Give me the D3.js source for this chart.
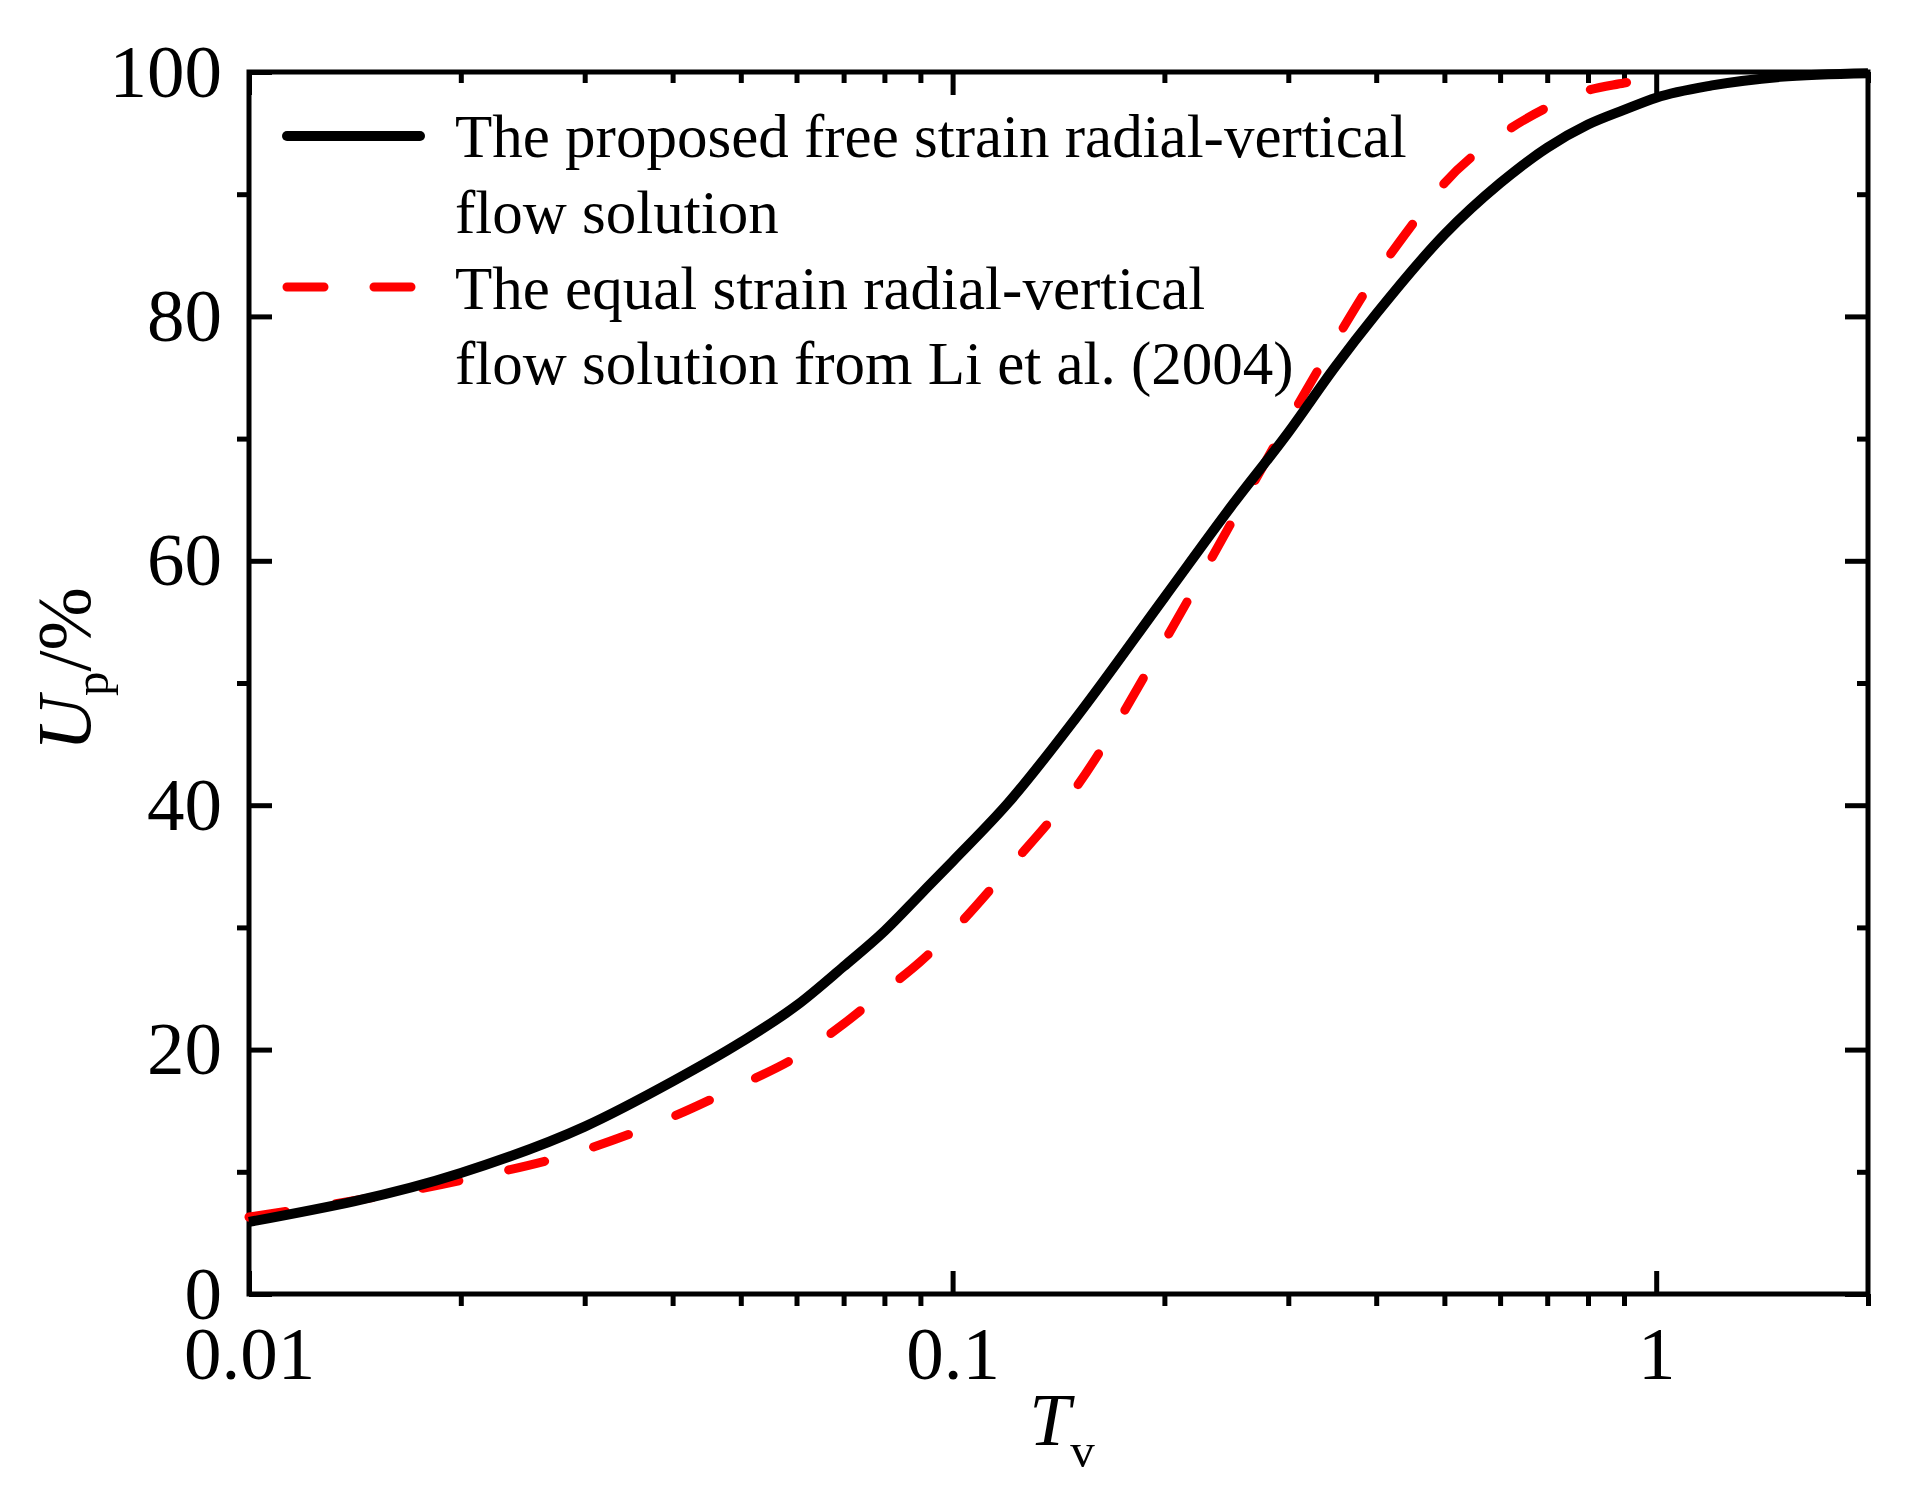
<!DOCTYPE html>
<html>
<head>
<meta charset="utf-8">
<script src="https://cdn.jsdelivr.net/npm/d3@7"></script>
<style>
  body { margin: 0; background: #fff; }
  svg { display: block; }
  text { font-family: "Liberation Serif", "Times New Roman", serif; fill: #000; }
</style>
</head>
<body>
<svg class="svg_parent" width="1906" height="1494"></svg>
<script>
// free strain solution (black)
const tvFree = [0.01, 0.02, 0.03, 0.04, 0.05, 0.06, 0.07, 0.08, 0.09, 0.1,
  0.12, 0.15, 0.2, 0.25, 0.3, 0.35, 0.4, 0.5, 0.6, 0.7, 0.8, 0.9, 1, 1.2, 1.5, 2];
const upFree = [5.9, 9.9, 13.7, 17.4, 20.6, 23.6, 26.8, 29.7, 32.7, 35.4,
  40.2, 47.2, 57.0, 64.6, 70.5, 75.9, 80.2, 86.7, 90.9, 93.8, 95.7, 96.9, 97.9, 98.9, 99.6, 99.9];

// equal strain solution, Li et al. (2004) (red dashed)
const tvEqual = [0.01, 0.02, 0.03, 0.04, 0.05, 0.06, 0.07, 0.08, 0.09, 0.1,
  0.12, 0.15, 0.2, 0.25, 0.3, 0.35, 0.4, 0.45, 0.5, 0.6, 0.7, 0.8, 0.9, 1];
const upEqual = [6.3, 9.3, 11.8, 14.5, 17.1, 19.4, 22.1, 24.8, 27.2, 29.7,
  34.8, 41.5, 53.4, 63.3, 71.4, 78.0, 83.4, 87.5, 90.9, 94.8, 97.1, 98.5, 99.1, 99.6];

// ticks
const xMajor = [0.01, 0.1, 1];
const xMajorLabels = ["0.01", "0.1", "1"];
const xMinor = [0.02, 0.03, 0.04, 0.05, 0.06, 0.07, 0.08, 0.09,
  0.2, 0.3, 0.4, 0.5, 0.6, 0.7, 0.8, 0.9, 2];
const yMajor = [0, 20, 40, 60, 80, 100];
const yMinor = [10, 30, 50, 70, 90];

const legendNames = [
  ["The proposed free strain radial-vertical", "flow solution"],
  ["The equal strain radial-vertical", "flow solution from Li et al. (2004)"]
];

const svg = d3.select(".svg_parent");
svg.selectAll("*").remove();

const margin = { left: 249, right: 1868, top: 72, bottom: 1294 };

const x = d3.scaleLog().domain([0.01, 2]).range([margin.left, margin.right]);
const y = d3.scaleLinear().domain([0, 100]).range([margin.bottom, margin.top]);

const tickW = 5;
const fontTick = 75;

function styleAxis(g) {
  g.attr("font-family", null).attr("font-size", null);
  g.select(".domain").remove();
  g.selectAll(".tick line").attr("stroke", "#000").attr("stroke-width", tickW);
  g.selectAll(".tick text").attr("font-size", fontTick).attr("fill", "#000");
}

// bottom axis: major inward with labels, minor outward
svg.append("g")
  .attr("transform", `translate(0,${margin.bottom})`)
  .call(d3.axisBottom(x).tickValues(xMajor)
    .tickSize(-23).tickPadding(32)
    .tickFormat((d, i) => xMajorLabels[i]))
  .call(styleAxis);
svg.append("g")
  .attr("transform", `translate(0,${margin.bottom})`)
  .call(d3.axisBottom(x).tickValues(xMinor).tickSize(12).tickFormat(() => ""))
  .call(styleAxis);

// top axis: all inward
svg.append("g")
  .attr("transform", `translate(0,${margin.top})`)
  .call(d3.axisTop(x).tickValues(xMajor).tickSize(-23).tickFormat(() => ""))
  .call(styleAxis);
svg.append("g")
  .attr("transform", `translate(0,${margin.top})`)
  .call(d3.axisTop(x).tickValues(xMinor).tickSize(-11).tickFormat(() => ""))
  .call(styleAxis);

// left axis: major inward with labels, minor outward
svg.append("g")
  .attr("transform", `translate(${margin.left},0)`)
  .call(d3.axisLeft(y).tickValues(yMajor).tickSize(-23).tickPadding(27)
    .tickFormat(d3.format("d")))
  .call(styleAxis);
svg.append("g")
  .attr("transform", `translate(${margin.left},0)`)
  .call(d3.axisLeft(y).tickValues(yMinor).tickSize(12).tickFormat(() => ""))
  .call(styleAxis);

// right axis: all inward
svg.append("g")
  .attr("transform", `translate(${margin.right},0)`)
  .call(d3.axisRight(y).tickValues(yMajor).tickSize(-23).tickFormat(() => ""))
  .call(styleAxis);
svg.append("g")
  .attr("transform", `translate(${margin.right},0)`)
  .call(d3.axisRight(y).tickValues(yMinor).tickSize(-11).tickFormat(() => ""))
  .call(styleAxis);

// frame
svg.append("rect")
  .attr("x", margin.left).attr("y", margin.top)
  .attr("width", margin.right - margin.left)
  .attr("height", margin.bottom - margin.top)
  .attr("fill", "none").attr("stroke", "#000").attr("stroke-width", 5);

// curves
const line = d3.line()
  .x(d => x(d[0]))
  .y(d => y(d[1]))
  .curve(d3.curveMonotoneX);

svg.append("path")
  .datum(tvEqual.map((t, i) => [t, upEqual[i]]))
  .attr("fill", "none")
  .attr("stroke", "#ff0000")
  .attr("stroke-width", 9)
  .attr("stroke-linecap", "round")
  .attr("stroke-dasharray", "37,51")
  .attr("d", line);

svg.append("path")
  .datum(tvFree.map((t, i) => [t, upFree[i]]))
  .attr("fill", "none")
  .attr("stroke", "#000")
  .attr("stroke-width", 10)
  .attr("stroke-linejoin", "round")
  .attr("d", line);

// legend
const legend = svg.append("g");
legend.append("line")
  .attr("x1", 287).attr("x2", 420).attr("y1", 136).attr("y2", 136)
  .attr("stroke", "#000").attr("stroke-width", 10).attr("stroke-linecap", "round");
legend.append("line")
  .attr("x1", 287).attr("x2", 420).attr("y1", 287).attr("y2", 287)
  .attr("stroke", "#ff0000").attr("stroke-width", 9).attr("stroke-linecap", "round")
  .attr("stroke-dasharray", "37,50");

const baselines = [[157, 233], [309, 384]];
legendNames.forEach((lines, i) => {
  lines.forEach((s, j) => {
    legend.append("text")
      .attr("x", 455).attr("y", baselines[i][j])
      .attr("font-size", 61)
      .text(s);
  });
});

// x axis title
const xt = svg.append("text")
  .attr("x", 1062).attr("y", 1445)
  .attr("text-anchor", "middle");
xt.append("tspan").attr("font-size", 74).attr("font-style", "italic").text("T");
xt.append("tspan").attr("font-size", 49).attr("dy", 22).text("v");

// y axis title
const yt = svg.append("text")
  .attr("transform", "translate(90,669) rotate(-90)")
  .attr("text-anchor", "middle");
yt.append("tspan").attr("font-size", 76).attr("font-style", "italic").text("U");
yt.append("tspan").attr("font-size", 49).attr("dy", 18).text("p");
yt.append("tspan").attr("font-size", 76).attr("dy", -18).text("/%");
</script>
</body>
</html>
